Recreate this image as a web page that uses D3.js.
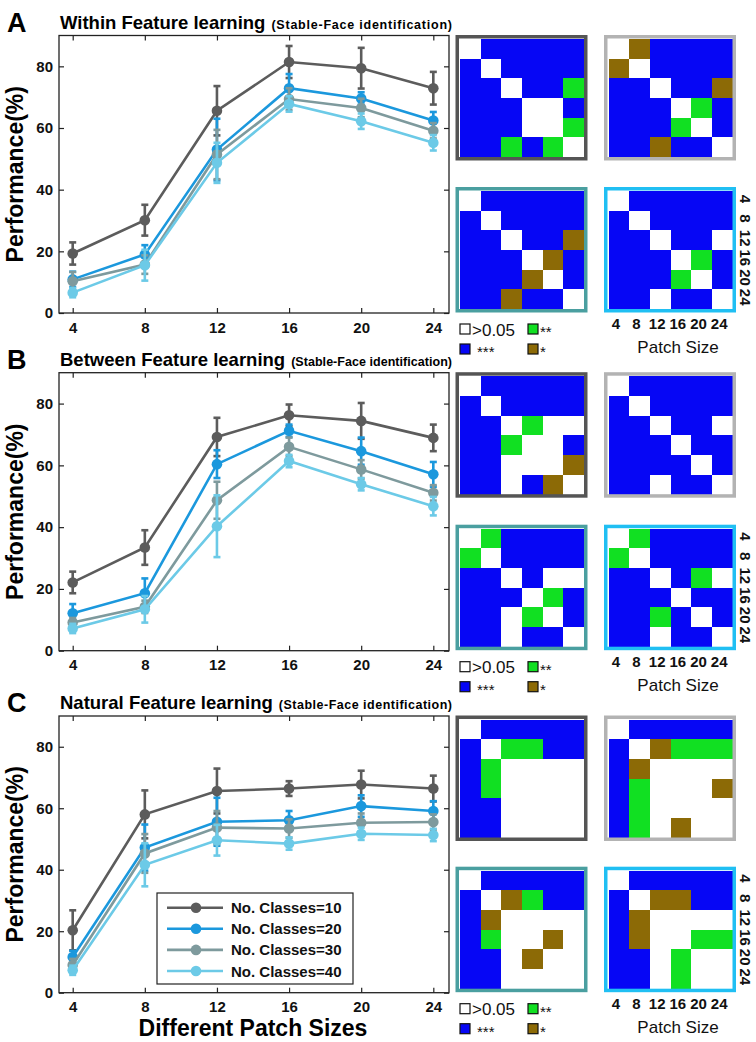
<!DOCTYPE html>
<html>
<head>
<meta charset="utf-8">
<script src="https://cdn.jsdelivr.net/npm/d3@7"></script>
<style>
body { margin: 0; background: #fff; }
svg { display: block; font-family: "Liberation Sans", Arial, sans-serif; }
</style>
</head>
<body>
<svg width="756" height="1042"></svg>
<script>
// ---------------- Data ----------------
var patchSizes = [4, 8, 12, 16, 20, 24];
var yTicks = [0, 20, 40, 60, 80];
var classLabels = ["No. Classes=10", "No. Classes=20", "No. Classes=30", "No. Classes=40"];
var seriesColors = ["#5c5c5c", "#1b98dd", "#7e9a9d", "#6ccae7"];
var frameColors = ["#555555", "#b3b3b3", "#4a9fa0", "#20bff3"];

// mean performance (%) per class count, per patch size
var withinMean = [
  [19.3, 30.1, 65.6, 81.4, 79.4, 72.9],
  [10.9, 19.0, 53.0, 72.9, 69.6, 62.4],
  [10.3, 15.7, 51.4, 69.4, 66.5, 59.1],
  [6.6, 15.5, 48.7, 67.8, 62.2, 55.2]
];
var withinErr = [
  [3.6, 5.0, 8.0, 5.2, 6.6, 5.3],
  [2.5, 3.0, 10.0, 4.6, 2.0, 2.8],
  [3.0, 3.0, 8.0, 3.5, 3.0, 2.5],
  [1.5, 5.0, 6.5, 2.5, 2.5, 2.5]
];
var betweenMean = [
  [22.1, 33.4, 69.2, 76.2, 74.4, 68.9],
  [12.1, 18.6, 60.4, 71.2, 64.6, 57.1],
  [9.1, 14.2, 48.7, 66.0, 58.7, 51.1],
  [7.2, 13.4, 40.3, 61.4, 53.9, 46.8]
];
var betweenErr = [
  [3.5, 5.6, 6.2, 3.5, 5.8, 4.3],
  [3.0, 4.8, 4.5, 2.0, 4.4, 4.0],
  [1.5, 2.0, 6.0, 3.0, 3.0, 2.5],
  [1.5, 4.3, 10.0, 2.0, 2.0, 3.0]
];
var naturalMean = [
  [20.3, 58.0, 65.6, 66.4, 67.7, 66.4],
  [11.6, 47.2, 55.6, 56.1, 60.7, 59.1],
  [9.0, 45.3, 53.7, 53.4, 55.3, 55.5],
  [7.3, 41.6, 49.6, 48.5, 51.7, 51.3]
];
var naturalErr = [
  [6.5, 7.8, 7.3, 2.4, 4.5, 4.2],
  [2.0, 7.5, 7.8, 3.0, 3.5, 3.2],
  [2.0, 6.3, 5.4, 3.0, 3.0, 2.5],
  [1.5, 7.0, 5.0, 2.0, 2.0, 2.0]
];

// significance matrices: W >0.05, G **, B ***, R *
var sigColors = { W: "#ffffff", G: "#11e022", B: "#0606f5", R: "#8c6a06" };
var withinSig = [
  ["WBBBBB", "BWBBBB", "BBWBBG", "BBBWWB", "BBBWWG", "BBGBGW"],
  ["WRBBBB", "RWBBBB", "BBWBBR", "BBBWGB", "BBBGWB", "BBRBBW"],
  ["WBBBBB", "BWBBBB", "BBWBBR", "BBBWRB", "BBBRWB", "BBRBBW"],
  ["WBBBBB", "BWBBBB", "BBWBBW", "BBBWGB", "BBBGWB", "BBWBBW"]
];
var betweenSig = [
  ["WBBBBB", "BWBBBB", "BBWGWW", "BBGWWB", "BBWWWR", "BBWBRW"],
  ["WBBBBB", "BWBBBB", "BBWBBW", "BBBWBB", "BBBBWB", "BBWBBW"],
  ["WGBBBB", "GWBBBB", "BBWBWW", "BBBWGB", "BBWGWB", "BBWBBW"],
  ["WGBBBB", "GWBBBB", "BBWBGW", "BBBWBB", "BBGBWB", "BBWBBW"]
];
var naturalSig = [
  ["WBBBBB", "BWGGBB", "BGWWWW", "BGWWWW", "BBWWWW", "BBWWWW"],
  ["WBBBBB", "BWRGGG", "BRWWWW", "BGWWWR", "BGWWWW", "BGWRWW"],
  ["WBBBBB", "BWRGBB", "BRWWWW", "BGWWRW", "BBWRWW", "BBWWWW"],
  ["WBBBBB", "BWRRBB", "BRWWWW", "BRWWGG", "BBWGWW", "BBWGWW"]
];

var panels = [
  { letter: "A", title: "Within Feature learning", top: 35.5, bottom: 313, mean: withinMean, err: withinErr, sig: withinSig },
  { letter: "B", title: "Between Feature learning", top: 372.7, bottom: 650.7, mean: betweenMean, err: betweenErr, sig: betweenSig },
  { letter: "C", title: "Natural Feature learning", top: 716, bottom: 992.7, mean: naturalMean, err: naturalErr, sig: naturalSig, legend: true, xLabel: true }
];

// ---------------- Drawing ----------------
var svg = d3.select("svg");

var x = d3.scaleLinear()
    .domain([3.24, 24.87])
    .range([59, 449]);

panels.forEach(drawPanel);

function drawPanel(p) {
  var g = svg.append("g");
  var y = d3.scaleLinear().domain([0, 90]).range([p.bottom, p.top]);

  // panel letter and title
  g.append("text")
      .attr("x", 7).attr("y", p.top - 4)
      .attr("font-size", 27).attr("font-weight", "bold")
      .text(p.letter);
  var mainTitle = g.append("text")
      .attr("x", 60).attr("y", p.top - 7)
      .attr("font-weight", "bold").attr("font-size", 18.5)
      .text(p.title);
  var subX = 60 + mainTitle.node().getComputedTextLength() + 6;
  g.append("text")
      .attr("x", subX).attr("y", p.top - 7)
      .attr("font-weight", "bold").attr("font-size", 12.5)
      .attr("textLength", 452 - subX).attr("lengthAdjust", "spacing")
      .text("(Stable-Face identification)");

  // axes with inward ticks
  var bottomAxis = d3.axisBottom(x).tickValues(patchSizes).tickSize(-5).tickPadding(9);
  var topAxis = d3.axisTop(x).tickValues(patchSizes).tickSize(-5).tickFormat("");
  var leftAxis = d3.axisLeft(y).tickValues(yTicks).tickSize(-5).tickPadding(6);
  var rightAxis = d3.axisRight(y).tickValues(yTicks).tickSize(-5).tickFormat("");

  g.append("g").attr("transform", "translate(0," + p.bottom + ")").call(bottomAxis);
  g.append("g").attr("transform", "translate(0," + p.top + ")").call(topAxis);
  g.append("g").attr("transform", "translate(59,0)").call(leftAxis);
  g.append("g").attr("transform", "translate(449,0)").call(rightAxis);
  g.selectAll(".domain").remove();
  g.selectAll(".tick line").attr("stroke", "#222").attr("stroke-width", 1.2);
  g.selectAll(".tick text")
      .attr("font-family", "Liberation Sans, Arial, sans-serif")
      .attr("font-size", 15).attr("font-weight", "bold").attr("fill", "#111");

  g.append("rect")
      .attr("x", 59).attr("y", p.top)
      .attr("width", 390).attr("height", p.bottom - p.top)
      .attr("fill", "none").attr("stroke", "#222").attr("stroke-width", 1.3);

  // y label
  g.append("text")
      .attr("transform", "translate(23," + ((p.top + p.bottom) / 2) + ") rotate(-90)")
      .attr("text-anchor", "middle")
      .attr("font-size", 23).attr("font-weight", "bold")
      .text("Performance(%)");

  // series
  var line = d3.line()
      .x(function(d, i) { return x(patchSizes[i]); })
      .y(function(d) { return y(d); });

  p.mean.forEach(function(vals, s) {
    var c = seriesColors[s];
    var sg = g.append("g");
    sg.append("path")
        .datum(vals)
        .attr("d", line)
        .attr("fill", "none").attr("stroke", c).attr("stroke-width", 2.6);
    var eb = sg.selectAll(".eb").data(vals).enter().append("g");
    eb.append("line")
        .attr("x1", function(d, i) { return x(patchSizes[i]); })
        .attr("x2", function(d, i) { return x(patchSizes[i]); })
        .attr("y1", function(d, i) { return y(d - p.err[s][i]); })
        .attr("y2", function(d, i) { return y(d + p.err[s][i]); })
        .attr("stroke", c).attr("stroke-width", 2.6);
    [-1, 1].forEach(function(sign) {
      eb.append("line")
          .attr("x1", function(d, i) { return x(patchSizes[i]) - 3.5; })
          .attr("x2", function(d, i) { return x(patchSizes[i]) + 3.5; })
          .attr("y1", function(d, i) { return y(d + sign * p.err[s][i]); })
          .attr("y2", function(d, i) { return y(d + sign * p.err[s][i]); })
          .attr("stroke", c).attr("stroke-width", 2.6);
    });
    eb.append("circle")
        .attr("cx", function(d, i) { return x(patchSizes[i]); })
        .attr("cy", function(d) { return y(d); })
        .attr("r", 5.3)
        .attr("fill", c);
  });

  if (p.xLabel) {
    g.append("text")
        .attr("x", 253).attr("y", 1036)
        .attr("text-anchor", "middle")
        .attr("font-size", 23).attr("font-weight", "bold")
        .text("Different Patch Sizes");
  }

  if (p.legend) drawLegend(g);

  drawMatrices(g, p);
}

function drawLegend(g) {
  g.append("rect")
      .attr("x", 157).attr("y", 893).attr("width", 196).attr("height", 91)
      .attr("fill", "#fff").attr("stroke", "#222").attr("stroke-width", 1.2);
  var ly = d3.scalePoint().domain(d3.range(4)).range([907.7, 971]);
  classLabels.forEach(function(lab, i) {
    var yy = ly(i);
    g.append("line")
        .attr("x1", 167).attr("x2", 223).attr("y1", yy).attr("y2", yy)
        .attr("stroke", seriesColors[i]).attr("stroke-width", 2.6);
    g.append("circle").attr("cx", 196).attr("cy", yy).attr("r", 5.3).attr("fill", seriesColors[i]);
    g.append("text")
        .attr("x", 231).attr("y", yy + 5.5)
        .attr("font-size", 15).attr("font-weight", "bold").attr("fill", "#111")
        .text(lab);
  });
}

function drawMatrices(g, p) {
  var cols = [455.5, 604];
  var rows = [p.top - 0.5, p.bottom - 126];
  var size = { w: 132, h: 125.5 };
  var lastCells;

  p.sig.forEach(function(mat, m) {
    var ox = cols[m % 2], oy = rows[Math.floor(m / 2)];
    var cx = d3.scaleBand().domain(d3.range(6)).range([ox + 4.5, ox + size.w - 3.5]);
    var cy = d3.scaleBand().domain(d3.range(6)).range([oy + 4, oy + size.h - 3.5]);
    lastCells = { cx: cx, cy: cy };

    var cells = [];
    mat.forEach(function(row, r) {
      row.split("").forEach(function(code, c) { cells.push({ r: r, c: c, code: code }); });
    });
    g.append("rect")
        .attr("x", ox + 1.75).attr("y", oy + 1.75)
        .attr("width", size.w - 3.5).attr("height", size.h - 3.5)
        .attr("fill", "#fff");
    g.append("g").attr("shape-rendering", "crispEdges")
      .selectAll("rect").data(cells).enter().append("rect")
        .attr("x", function(d) { return cx(d.c); })
        .attr("y", function(d) { return cy(d.r); })
        .attr("width", cx.bandwidth() + 0.6)
        .attr("height", cy.bandwidth() + 0.6)
        .attr("fill", function(d) { return sigColors[d.code]; });
    g.append("rect")
        .attr("x", ox + 1.75).attr("y", oy + 1.75)
        .attr("width", size.w - 3.5).attr("height", size.h - 3.5)
        .attr("fill", "none")
        .attr("stroke", frameColors[m]).attr("stroke-width", 3.5);
  });

  // patch size labels of the last matrix
  g.append("g").selectAll("text").data(patchSizes).enter().append("text")
      .attr("x", function(d, i) { return lastCells.cx(i) + lastCells.cx.bandwidth() / 2 - 3; })
      .attr("y", p.bottom + 16)
      .attr("text-anchor", "middle")
      .attr("font-size", 15).attr("font-weight", "bold").attr("fill", "#111")
      .text(function(d) { return d; });
  g.append("g").selectAll("text").data(patchSizes).enter().append("text")
      .attr("transform", function(d, i) {
        return "translate(745," + (lastCells.cy(i) + lastCells.cy.bandwidth() / 2 - 2) + ") rotate(90)";
      })
      .attr("text-anchor", "middle").attr("dy", "0.35em")
      .attr("font-size", 15).attr("font-weight", "bold").attr("fill", "#111")
      .text(function(d) { return d; });
  g.append("text")
      .attr("x", 678).attr("y", p.bottom + 40)
      .attr("text-anchor", "middle").attr("font-size", 17).attr("fill", "#111")
      .text("Patch Size");

  // significance legend
  var keys = [
    { code: "W", label: ">0.05", x: 460, row: 0 },
    { code: "G", label: "**", x: 528, row: 0 },
    { code: "B", label: "***", x: 460, row: 1 },
    { code: "R", label: "*", x: 528, row: 1 }
  ];
  keys.forEach(function(k) {
    var yy = p.bottom + 11 + k.row * 20;
    g.append("rect")
        .attr("x", k.x).attr("y", yy).attr("width", 10).attr("height", 10)
        .attr("fill", sigColors[k.code]).attr("stroke", "#111").attr("stroke-width", 1.2);
    g.append("text")
        .attr("x", k.x + (k.code === "W" ? 12 : (k.code === "B" ? 17 : 12)))
        .attr("y", yy + (k.code === "W" ? 11.5 : 13))
        .attr("font-size", k.code === "W" ? 17 : 15).attr("fill", "#111")
        .text(k.label);
  });
}
</script>
</body>
</html>
